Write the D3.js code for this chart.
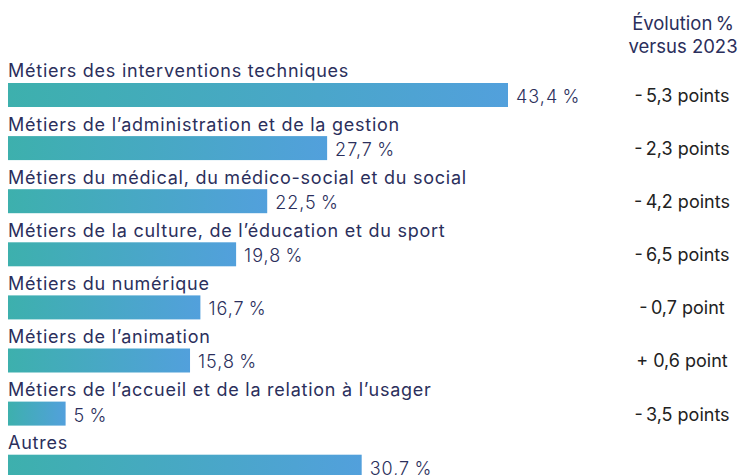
<!DOCTYPE html>
<html>
<head>
<meta charset="utf-8">
<script src="https://cdn.jsdelivr.net/npm/d3@7"></script>
<style>
  body { margin: 0; background: #fff; }
  svg { display: block; font-family: "Inter", "Roboto", sans-serif; }
</style>
</head>
<body>
<div id="chart"></div>
<script>
var width = 741;
var height = 475;

var categories = [
  "Métiers des interventions techniques",
  "Métiers de l’administration et de la gestion",
  "Métiers du médical, du médico-social et du social",
  "Métiers de la culture, de l’éducation et du sport",
  "Métiers du numérique",
  "Métiers de l’animation",
  "Métiers de l’accueil et de la relation à l’usager",
  "Autres"
];
var values = [43.4, 27.7, 22.5, 19.8, 16.7, 15.8, 5, 30.7];
var valueLabels = ["43,4\u2009%", "27,7\u2009%", "22,5\u2009%", "19,8\u2009%", "16,7\u2009%", "15,8\u2009%", "5\u2009%", "30,7\u2009%"];
var evolutions = ["-\u20095,3 points", "-\u20092,3 points", "-\u20094,2 points", "-\u20096,5 points", "-\u20090,7 point", "+ 0,6 point", "-\u20093,5 points", ""];
var headerLines = ["Évolution\u2009%", "versus 2023"];

window.onload = start;

function start() {
  var svg = d3.select("#chart").append("svg")
    .attr("width", width)
    .attr("height", height);

  // gradient for the bars
  var grad = svg.append("defs").append("linearGradient")
    .attr("id", "barGrad")
    .attr("x1", "0%").attr("x2", "100%")
    .attr("y1", "0%").attr("y2", "0%");
  grad.append("stop").attr("offset", "0%").attr("stop-color", "#3db0ad");
  grad.append("stop").attr("offset", "100%").attr("stop-color", "#52a0dc");

  var xScale = d3.scaleLinear().domain([0, 43.4]).range([8, 508]);

  var barH = 24;
  var pitch = 53.1;
  var labelGap = pitch - barH;
  // each band = label line + bar, bar sits at the bottom of the band
  var yScale = d3.scaleBand()
    .domain(d3.range(categories.length))
    .range([83 - labelGap, 83 - labelGap + pitch * categories.length]);

  var barTop = yScale.bandwidth() - barH;

  var rows = svg.selectAll("g.row")
    .data(categories)
    .enter()
    .append("g")
    .attr("class", "row")
    .attr("transform", function (d, i) { return "translate(0," + yScale(i) + ")"; });

  rows.append("text")
    .attr("x", 8)
    .attr("y", barTop - 5.5)
    .attr("fill", "#2b2f5c")
    .style("font-size", "18px")
    .style("letter-spacing", "0.75px")
    .text(function (d) { return d; });

  rows.append("rect")
    .attr("x", xScale(0))
    .attr("y", barTop)
    .attr("width", function (d, i) { return xScale(values[i]) - xScale(0); })
    .attr("height", barH)
    .attr("fill", "url(#barGrad)");

  rows.append("text")
    .attr("x", function (d, i) { return xScale(values[i]) + 8; })
    .attr("y", barTop + barH - 4)
    .attr("fill", "#2b2f5c")
    .style("font-size", "18px")
    .style("font-weight", 300)
    .style("letter-spacing", "1px")
    .text(function (d, i) { return valueLabels[i]; });

  rows.append("text")
    .attr("x", 682)
    .attr("y", barTop + barH - 5)
    .attr("text-anchor", "middle")
    .attr("fill", "#222222")
    .style("font-size", "18px")
    .text(function (d, i) { return evolutions[i]; });

  svg.selectAll("text.header")
    .data(headerLines)
    .enter()
    .append("text")
    .attr("class", "header")
    .attr("x", 683)
    .attr("y", function (d, i) { return 30 + i * 23; })
    .attr("text-anchor", "middle")
    .attr("fill", "#2b2f5c")
    .style("font-size", "18.5px")
    .text(function (d) { return d; });
}
</script>
</body>
</html>
